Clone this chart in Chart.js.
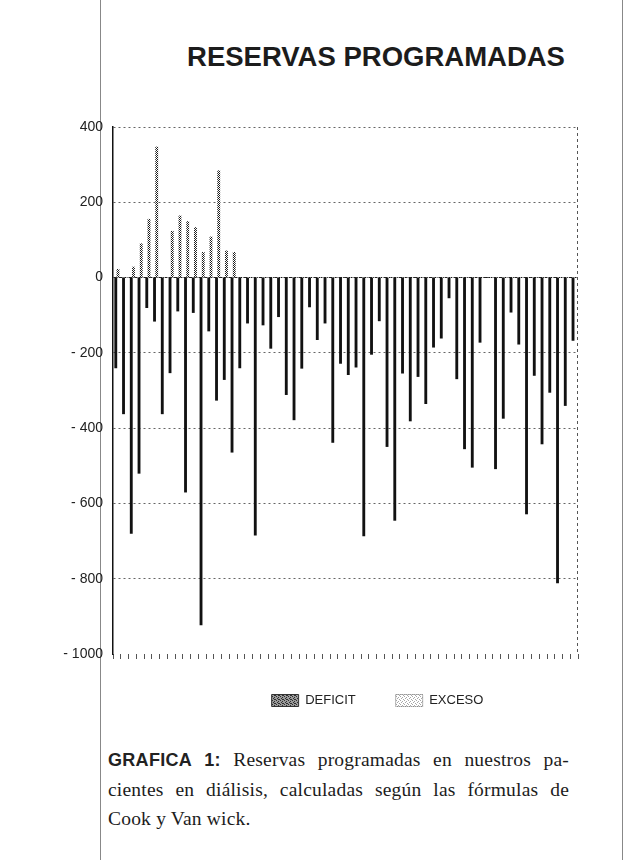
<!DOCTYPE html>
<html>
<head>
<meta charset="utf-8">
<script src="https://cdn.jsdelivr.net/npm/chart.js@4.4.1/dist/chart.umd.min.js"></script>
<style>
  html, body { margin:0; padding:0; background:#fff; width:638px; height:860px; overflow:hidden; position:relative; }
  #frameL { position:absolute; left:100px; top:0; width:1px; height:860px; background:#888; }
  #frameR { position:absolute; left:622px; top:0; width:1px; height:860px; background:#888; }
  #title { position:absolute; left:176px; width:400px; top:41px; line-height:28px; text-align:center;
           font:bold 27.5px "Liberation Sans", Arial, sans-serif; color:#1c1c1c; white-space:nowrap; }
  #wrap { position:absolute; left:0; top:100px; width:702px; height:617px; }
  #caption { position:absolute; left:108px; top:745px; width:461px;
             font:19.5px/29.5px "Liberation Serif", "Times New Roman", serif; color:#1c1c1c; letter-spacing:0.2px; }
  #caption .j { display:block; text-align:justify; text-align-last:justify; }
  #caption .l { display:block; text-align:left; }
  #caption b { font:bold 18px "Liberation Sans", Arial, sans-serif; color:#222; letter-spacing:0.3px; }
</style>
</head>
<body>
<div id="frameL"></div>
<div id="frameR"></div>
<div id="title">RESERVAS PROGRAMADAS</div>
<div id="wrap"><canvas id="chart" width="702" height="617"></canvas></div>
<div id="caption">
  <span class="j"><b>GRAFICA 1:</b> Reservas programadas en nuestros pa-</span>
  <span class="j">cientes en diálisis, calculadas según las fórmulas de</span>
  <span class="l">Cook y Van wick.</span>
</div>
<script>
const patients = ["1","2","3","4","5","6","7","8","9","10",
  "11","12","13","14","15","16","17","18","19","20",
  "21","22","23","24","25","26","27","28","29","30",
  "31","32","33","34","35","36","37","38","39","40",
  "41","42","43","44","45","46","47","48","49","50",
  "51","52","53","54","55","56","57","58","59","60"];

const deficit = [-240,-362,-680,-520,-80,-116,-362,-253,-89,-570,
  -93,-923,-142,-326,-271,-464,-240,-121,-684,-126,
  -188,-104,-311,-378,-241,-78,-165,-121,-438,-228,
  -258,-238,-686,-204,-115,-449,-645,-254,-381,-263,
  -335,-185,-161,-54,-269,-455,-504,-172,0,-508,
  -374,-92,-177,-628,-260,-442,-305,-811,-340,-167];

const exceso = [22,0,28,90,155,347,0,123,164,149,
  133,67,108,284,71,67,0,0,0,0,
  0,0,0,0,0,0,0,0,0,0,
  0,0,0,0,0,0,0,0,0,0,
  0,0,0,0,0,0,0,0,0,0,
  0,0,0,0,0,0,0,0,0,0];

const yTicks = [400, 200, 0, -200, -400, -600, -800, -1000];
const seriesNames = ["DEFICIT", "EXCESO"];

function makePattern(w, h, bg, fg, cells) {
  const c = document.createElement('canvas');
  c.width = w; c.height = h;
  const g = c.getContext('2d');
  g.fillStyle = bg; g.fillRect(0, 0, w, h);
  g.fillStyle = fg;
  cells.forEach(p => g.fillRect(p[0], p[1], 1, 1));
  return g.createPattern(c, 'repeat');
}
const excesoBarPattern = makePattern(2, 2, '#ffffff', '#1a1a1a', [[0,0],[1,1]]);
const deficitLegendPattern = makePattern(4, 4, '#9a9a9a', '#2e2e2e', [[0,0],[2,1],[1,2],[3,3],[2,3]]);
const excesoLegendPattern = makePattern(4, 4, '#ffffff', '#a8a8a8', [[0,0],[2,1],[1,2],[3,3]]);

const FONT = '"Liberation Sans", Arial, sans-serif';

const frameBorder = {
  id: 'frameBorder',
  afterDraw(chart) {
    const a = chart.chartArea, ctx = chart.ctx;
    ctx.save();
    ctx.strokeStyle = '#555';
    ctx.lineWidth = 1;
    ctx.setLineDash([3, 3]);
    ctx.beginPath();
    ctx.moveTo(Math.round(a.right) - 0.5, a.top);
    ctx.lineTo(Math.round(a.right) - 0.5, a.bottom);
    ctx.stroke();
    ctx.restore();
  }
};

new Chart(document.getElementById('chart'), {
  type: 'bar',
  data: {
    labels: patients,
    datasets: [
      { label: seriesNames[0], data: deficit, backgroundColor: '#111', borderWidth: 0, barThickness: 2.2 },
      { label: seriesNames[1], data: exceso, backgroundColor: excesoBarPattern, borderWidth: 0, barThickness: 2.2 }
    ]
  },
  options: {
    responsive: false,
    animation: false,
    layout: { padding: { left: 53, right: 0, top: 27, bottom: 0 } },
    plugins: {
      tooltip: { enabled: false },
      legend: {
        position: 'bottom',
        labels: {
          font: { family: FONT, size: 13 },
          color: '#222',
          boxWidth: 27,
          boxHeight: 12,
          padding: 40,
          generateLabels: () => [
            { text: seriesNames[0], fillStyle: deficitLegendPattern, strokeStyle: '#333', lineWidth: 1, hidden: false, datasetIndex: 0, fontColor: '#222' },
            { text: seriesNames[1], fillStyle: excesoLegendPattern, strokeStyle: '#666', lineWidth: 1, lineDash: [1, 1], hidden: false, datasetIndex: 1, fontColor: '#222' }
          ]
        }
      }
    },
    scales: {
      x: {
        grid: { display: true, drawOnChartArea: false, drawTicks: true, tickLength: 5, color: '#555', lineWidth: 1 },
        border: { display: false },
        ticks: { display: false },
        afterFit(s) { s.height = 0; }
      },
      y: {
        min: -1000,
        max: 400,
        afterBuildTicks(s) { s.ticks = yTicks.map(v => ({ value: v })); },
        ticks: {
          font: { family: FONT, size: 14 },
          color: '#222',
          padding: 10,
          callback: v => v < 0 ? '- ' + Math.abs(v) : String(v)
        },
        grid: {
          drawTicks: false,
          color: c => {
            const v = c.tick ? c.tick.value : null;
            if (v === -1000) return 'rgba(0,0,0,0)';
            if (v === 0) return '#222';
            return '#666';
          },
          lineWidth: 1
        },
        border: {
          display: true, color: '#111', width: 1.5,
          dash: c => (c.tick && c.tick.value === 0) ? [4, 1] : [2, 3]
        },
        afterFit(s) { s.width = 60; }
      },
      y2: {
        type: 'linear',
        position: 'right',
        display: true,
        grid: { display: false },
        border: { display: false },
        ticks: { display: false },
        afterFit(s) { s.width = 124; }
      }
    }
  },
  plugins: [frameBorder]
});
</script>
</body>
</html>
